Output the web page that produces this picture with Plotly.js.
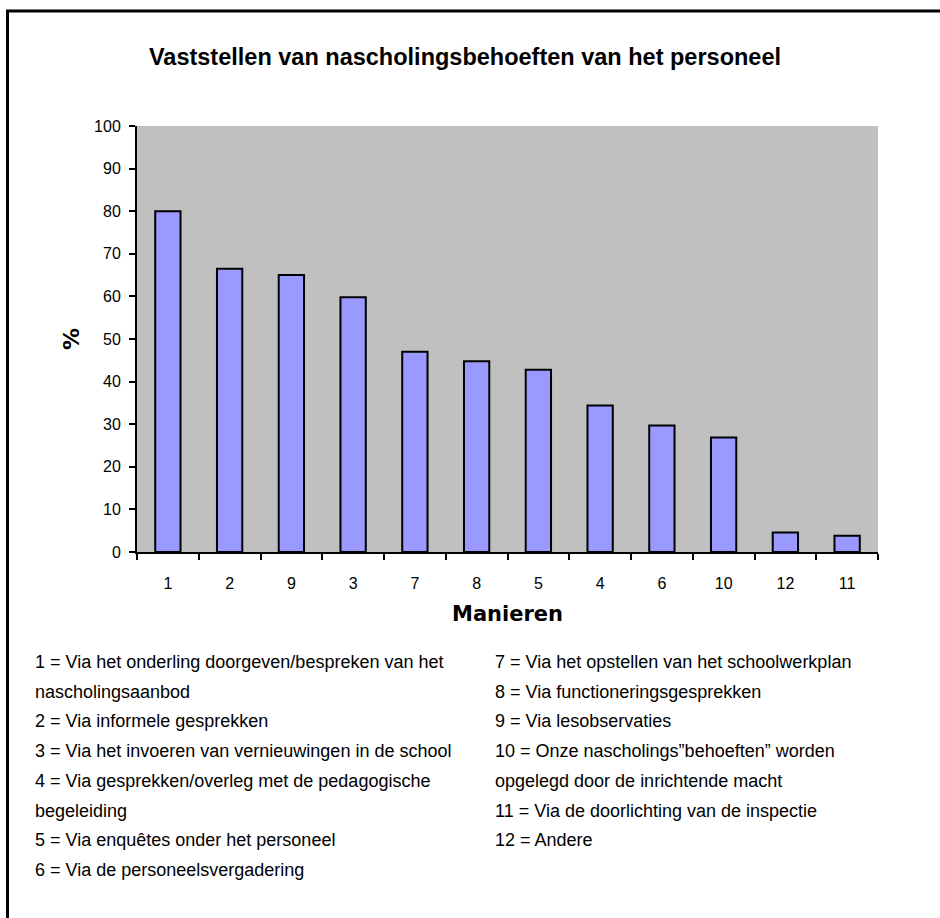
<!DOCTYPE html>
<html>
<head>
<meta charset="utf-8">
<script src="https://cdn.plot.ly/plotly-3.0.1.min.js"></script>
<style>
  html, body { margin: 0; padding: 0; background: #ffffff; }
  #chart { width: 940px; height: 918px; }
</style>
</head>
<body>
<div id="chart"></div>
<script>
// ---- data ----
const categories = ['1', '2', '9', '3', '7', '8', '5', '4', '6', '10', '12', '11'];
const percentages = [80.0, 66.5, 65.0, 59.8, 47.0, 44.8, 42.8, 34.4, 29.7, 26.9, 4.6, 3.8];

const chartTitle = 'Vaststellen van nascholingsbehoeften van het personeel';
const xTitle = 'Manieren';
const yTitle = '%';

const legendLeft = [
  '1 = Via het onderling doorgeven/bespreken van het',
  'nascholingsaanbod',
  '2 = Via informele gesprekken',
  '3 = Via het invoeren van vernieuwingen in de school',
  '4 = Via gesprekken/overleg met de pedagogische',
  'begeleiding',
  '5 = Via enquêtes onder het personeel',
  '6 = Via de personeelsvergadering'
];
const legendRight = [
  '7 = Via het opstellen van het schoolwerkplan',
  '8 = Via functioneringsgesprekken',
  '9 = Via lesobservaties',
  '10 = Onze nascholings\u201dbehoeften\u201d worden',
  'opgelegd door de inrichtende macht',
  '11 = Via de doorlichting van de inspectie',
  '12 = Andere'
];

// ---- layout geometry (pixels) ----
const W = 940, H = 918;
const M = { l: 137, r: 62, t: 126, b: 366 };
const PW = W - M.l - M.r, PH = H - M.t - M.b;
const px2x = p => (p - M.l) / PW;
const px2y = p => (H - M.b - p) / PH;

const legendFont = { family: 'Liberation Sans, Arial, sans-serif', size: 18, color: '#000000' };
const lineStart = 662, lineStep = 29.7;

const annotations = [];
legendLeft.forEach((t, i) => annotations.push({
  text: t, xref: 'paper', yref: 'paper', x: px2x(33), y: px2y(lineStart + i * lineStep),
  xanchor: 'left', yanchor: 'middle', showarrow: false, font: legendFont
}));
legendRight.forEach((t, i) => annotations.push({
  text: t, xref: 'paper', yref: 'paper', x: px2x(493), y: px2y(lineStart + i * lineStep),
  xanchor: 'left', yanchor: 'middle', showarrow: false, font: legendFont
}));

const bx0 = px2x(7.5), by0 = px2y(11), bx1 = px2x(960), by1 = px2y(940);

const trace = {
  type: 'bar',
  x: categories,
  y: percentages,
  marker: { color: '#9999FF', line: { color: '#000000', width: 2 } },
  hoverinfo: 'x+y'
};

const layout = {
  width: W, height: H,
  margin: M,
  paper_bgcolor: '#ffffff',
  plot_bgcolor: '#C0C0C0',
  showlegend: false,
  bargap: 0.59,
  title: {
    text: chartTitle,
    font: { family: 'Liberation Sans, Arial, sans-serif', size: 23.5, color: '#000000', weight: 'bold' },
    xref: 'container', x: 465 / W, xanchor: 'center',
    yref: 'container', y: 1 - 57 / H, yanchor: 'middle'
  },
  xaxis: {
    type: 'category',
    categoryorder: 'array', categoryarray: categories,
    showline: true, linecolor: '#000000', linewidth: 2,
    ticks: 'outside', tickson: 'boundaries', ticklen: 6, tickwidth: 2, tickcolor: '#000000',
    showgrid: false, zeroline: false,
    tickfont: { family: 'Liberation Sans, Arial, sans-serif', size: 16, color: '#000000' },
    ticklabelstandoff: 16,
    title: { text: xTitle, font: { family: 'DejaVu Sans, Verdana, sans-serif', size: 21, color: '#000000', weight: 'bold' }, standoff: 15 },
    automargin: false
  },
  yaxis: {
    range: [0, 100], dtick: 10, tick0: 0,
    showline: true, linecolor: '#000000', linewidth: 2,
    ticks: 'outside', ticklen: 6, tickwidth: 2, tickcolor: '#000000',
    showgrid: false, zeroline: false,
    tickfont: { family: 'Liberation Sans, Arial, sans-serif', size: 16, color: '#000000' },
    ticklabelstandoff: 5,
    title: { text: yTitle, font: { family: 'DejaVu Sans, Verdana, sans-serif', size: 22, color: '#000000', weight: 'bold' }, standoff: 8 },
    automargin: false
  },
  annotations: annotations,
  shapes: [{
    type: 'path', xref: 'paper', yref: 'paper',
    path: `M ${bx1} ${by0} L ${bx0} ${by0} L ${bx0} ${by1}`,
    line: { color: '#000000', width: 3 }
  }]
};

Plotly.newPlot('chart', [trace], layout, { staticPlot: true, displayModeBar: false });
</script>
</body>
</html>
